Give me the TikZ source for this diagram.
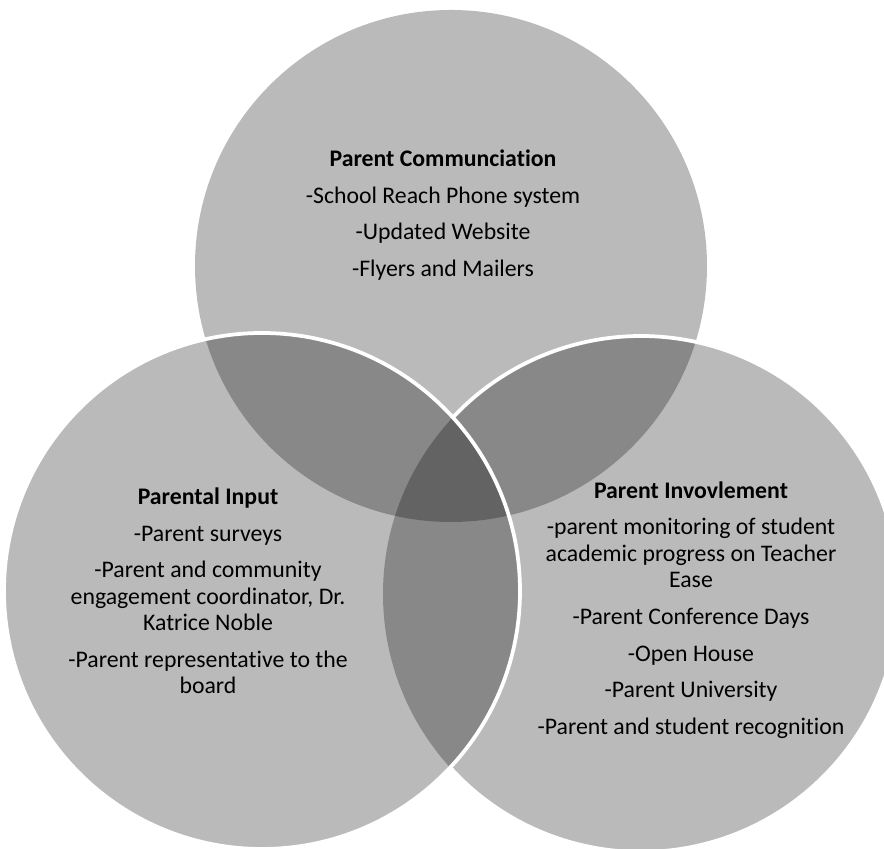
\documentclass[tikz,border=0pt]{standalone}
\usepackage{fontspec}
\setmainfont{Carlito}[Ligatures=NoCommon]
\begin{document}
\begin{tikzpicture}[x=0.03cm,y=0.03cm,
  venn/.style={fill=black,fill opacity=0.27},
  rim/.style={draw=white,line width=3.2pt},
  label/.style={align=center,text=black,font=\fontsize{20.3}{22.6}\selectfont,inner sep=0pt}]
\useasboundingbox (0,0) rectangle (884,849);
% circles
\fill[venn] (451,583) circle (256);
\fill[venn] (641,255) circle (258);
\draw[rim] (641,255) ++(-137.7:258) arc (-137.7:136.8:258);
\fill[venn] (262,258) circle (258);
\draw[rim] (262,258) circle (258);
% texts
\node[label] (comm) at (443,634) {\textbf{Parent Communciation}\\[8.7pt]
  -School Reach Phone system\\[8.7pt]
  -Updated Website\\[8.7pt]
  -Flyers and Mailers};
\node[label] (input) at (208,258) {\textbf{Parental Input}\\[8.7pt]
  -Parent surveys\\[8.7pt]
  -Parent and community\\
  engagement coordinator, Dr.\\
  Katrice Noble\\[8.7pt]
  -Parent representative to the\\
  board};
\node[label] (involve) at (691,239) {\textbf{Parent Invovlement}\\[8.7pt]
  -parent monitoring of student\\
  academic progress on Teacher\\
  Ease\\[8.7pt]
  -Parent Conference Days\\[8.7pt]
  -Open House\\[8.7pt]
  -Parent University\\[8.7pt]
  -Parent and student recognition};
\end{tikzpicture}
\end{document}
